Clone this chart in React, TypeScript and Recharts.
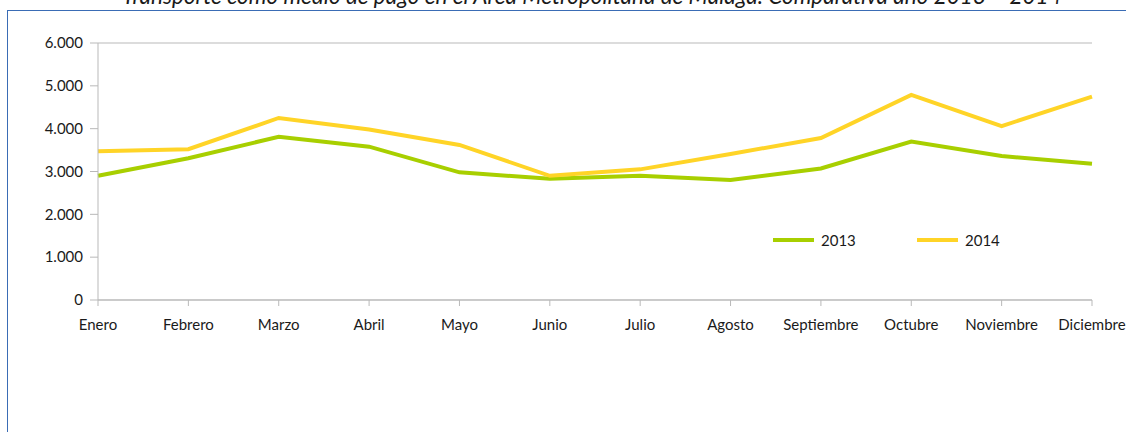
import { CartesianGrid, Legend, Line, LineChart, XAxis, YAxis } from 'recharts'

const months = [
  'Enero',
  'Febrero',
  'Marzo',
  'Abril',
  'Mayo',
  'Junio',
  'Julio',
  'Agosto',
  'Septiembre',
  'Octubre',
  'Noviembre',
  'Diciembre',
]

const values2013 = [2900, 3310, 3810, 3580, 2980, 2830, 2900, 2800, 3070, 3700, 3360, 3180]
const values2014 = [3470, 3520, 4250, 3980, 3620, 2900, 3050, 3410, 3780, 4790, 4060, 4750]

const yTicks = [0, 1000, 2000, 3000, 4000, 5000, 6000]

const GREEN = '#a8cf00'
const YELLOW = '#ffd427'
const GRID = '#b9b9b9'
const FONT = 'Lato, "Open Sans", sans-serif'

const chartData = months.map((m, i) => ({
  month: m,
  y2013: values2013[i],
  y2014: values2014[i],
}))

function formatThousands(v: number) {
  if (v === 0) return '0'
  return `${Math.floor(v / 1000)}.${String(v % 1000).padStart(3, '0')}`
}

// legend sits inside the plot, two line swatches side by side
function LegendContent(props: any) {
  const items = props.payload || []
  return (
    <div style={{ display: 'flex', alignItems: 'center', fontFamily: FONT, fontSize: 15, color: '#1a1a1a' }}>
      {items.map((it: any) => (
        <div key={it.value} style={{ display: 'flex', alignItems: 'center', width: 144 }}>
          <span style={{ display: 'inline-block', width: 41, height: 4, background: it.color, marginRight: 7 }} />
          <span>{it.value}</span>
        </div>
      ))}
    </div>
  )
}

export default function App() {
  return (
    <div style={{ position: 'absolute', left: 0, top: 0, width: 1126, height: 432, overflow: 'hidden', background: '#fff' }}>
      {/* title is cut by the top edge, as in the source */}
      <div
        style={{
          position: 'absolute',
          left: 592,
          top: -16,
          transform: 'translateX(-50%)',
          whiteSpace: 'nowrap',
          fontFamily: FONT,
          fontStyle: 'italic',
          fontSize: 22.5,
          lineHeight: '24px',
          color: '#1a1a1a',
        }}
      >
        Transporte como medio de pago en el Área Metropolitana de Málaga. Comparativa año 2013 – 2014
      </div>
      <div
        style={{
          position: 'absolute',
          left: 7,
          top: 10,
          width: 1200,
          height: 500,
          borderLeft: '1px solid #3a6cb5',
          borderTop: '1px solid #3a6cb5',
        }}
      />
      <div style={{ position: 'absolute', left: 0, top: 0 }}>
        <LineChart width={1126} height={432} data={chartData} margin={{ top: 43, right: 34, left: 0, bottom: 102 }}>
          <CartesianGrid vertical={false} stroke={GRID} strokeWidth={1} />
          <XAxis
            dataKey="month"
            interval={0}
            padding={{ left: 0, right: 0 }}
            height={30}
            tickSize={6}
            tickMargin={13}
            stroke={GRID}
            tick={{ fill: '#1a1a1a', fontSize: 15, fontFamily: FONT }}
          />
          <YAxis
            yAxisId="left"
            domain={[0, 6000]}
            ticks={yTicks}
            width={98}
            tickSize={8}
            tickMargin={7}
            stroke={GRID}
            tickFormatter={formatThousands}
            tick={{ fill: '#1a1a1a', fontSize: 15, fontFamily: FONT }}
          />
          <YAxis yAxisId="right" orientation="right" width={0} domain={[0, 6000]} tick={false} tickLine={false} stroke={GRID} />
          <Legend
            layout="horizontal"
            verticalAlign="middle"
            content={<LegendContent />}
            wrapperStyle={{ left: 773, top: 231, width: 300 }}
          />
          <Line
            yAxisId="left"
            type="linear"
            dataKey="y2013"
            name="2013"
            stroke={GREEN}
            strokeWidth={4}
            dot={false}
            isAnimationActive={false}
          />
          <Line
            yAxisId="left"
            type="linear"
            dataKey="y2014"
            name="2014"
            stroke={YELLOW}
            strokeWidth={4}
            dot={false}
            isAnimationActive={false}
          />
        </LineChart>
      </div>
    </div>
  )
}
